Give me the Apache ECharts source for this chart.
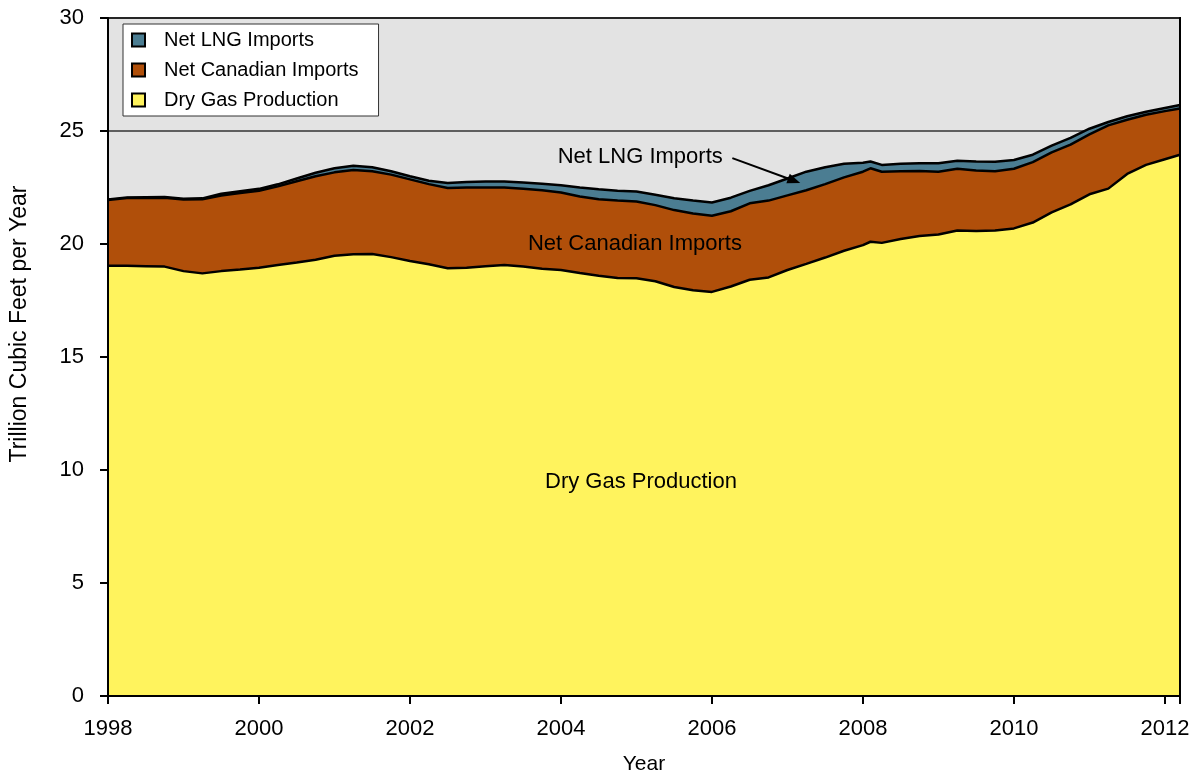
<!DOCTYPE html>
<html>
<head>
<meta charset="utf-8">
<script src="https://cdn.jsdelivr.net/npm/echarts@6/dist/echarts.min.js"></script>
<style>
  html, body { margin: 0; padding: 0; background: #ffffff; }
  #chart { width: 1193px; height: 777px; }
</style>
</head>
<body>
<div id="chart"></div>
<script>
// ---- data (Trillion cubic feet per year, 12-month totals) ----
var years = [1998.00,1998.25,1998.50,1998.75,1999.00,1999.25,1999.50,1999.75,
  2000.00,2000.25,2000.50,2000.75,2001.00,2001.25,2001.50,2001.75,
  2002.00,2002.25,2002.50,2002.75,2003.00,2003.25,2003.50,2003.75,
  2004.00,2004.25,2004.50,2004.75,2005.00,2005.25,2005.50,2005.75,
  2006.00,2006.25,2006.50,2006.75,2007.00,2007.25,2007.50,2007.75,
  2008.00,2008.10,2008.25,2008.50,2008.75,2009.00,2009.25,2009.50,2009.75,
  2010.00,2010.25,2010.50,2010.75,2011.00,2011.25,2011.50,2011.75,
  2012.00,2012.20];
var dryGasProduction = [19.04,19.04,19.02,19.00,18.80,18.70,18.80,18.87,
  18.95,19.07,19.18,19.30,19.48,19.55,19.56,19.42,
  19.25,19.10,18.93,18.95,19.02,19.07,19.00,18.90,
  18.85,18.72,18.60,18.50,18.48,18.35,18.10,17.95,
  17.88,18.12,18.42,18.52,18.85,19.12,19.40,19.70,
  19.95,20.10,20.05,20.22,20.35,20.42,20.60,20.58,20.60,
  20.69,20.95,21.40,21.75,22.20,22.45,23.10,23.50,
  23.75,23.95];
var netCanadianImports = [2.91,2.99,3.02,3.05,3.17,3.28,3.35,3.39,
  3.41,3.48,3.60,3.70,3.69,3.72,3.66,3.65,
  3.61,3.55,3.55,3.55,3.48,3.43,3.45,3.48,
  3.43,3.38,3.38,3.42,3.40,3.37,3.40,3.40,
  3.37,3.33,3.38,3.40,3.30,3.26,3.25,3.25,
  3.25,3.25,3.15,3.00,2.88,2.78,2.73,2.67,2.62,
  2.64,2.67,2.65,2.65,2.65,2.80,2.40,2.22,
  2.13,2.05];
var netLngImports = [0.02,0.03,0.03,0.03,0.03,0.04,0.07,0.07,
  0.08,0.09,0.12,0.15,0.18,0.19,0.18,0.15,
  0.14,0.15,0.22,0.24,0.27,0.27,0.27,0.29,
  0.32,0.40,0.44,0.44,0.44,0.46,0.52,0.57,
  0.59,0.60,0.55,0.68,0.75,0.82,0.75,0.60,
  0.40,0.30,0.30,0.33,0.34,0.37,0.35,0.40,0.42,
  0.39,0.33,0.30,0.30,0.25,0.15,0.15,0.13,
  0.14,0.15];
var xTicks = [1998, 2000, 2002, 2004, 2006, 2008, 2010, 2012];
var yTicks = [0, 5, 10, 15, 20, 25, 30];
var seriesNames = ['Dry Gas Production', 'Net Canadian Imports', 'Net LNG Imports'];

// ---- build: cumulative layers (stack tops) ----
var layerProd = years.map(function (y, i) { return [y, dryGasProduction[i]]; });
var layerCan = years.map(function (y, i) { return [y, dryGasProduction[i] + netCanadianImports[i]]; });
var layerLng = years.map(function (y, i) { return [y, dryGasProduction[i] + netCanadianImports[i] + netLngImports[i]]; });

var FONT = 'Liberation Sans';
var colors = { prod: '#FFF35D', can: '#B04F0A', lng: '#4B7D92' };

var chart = echarts.init(document.getElementById('chart'), null, { renderer: 'canvas' });

function areaSeries(name, data, color, z) {
  return {
    name: name, type: 'line', data: data, xAxisIndex: 0, yAxisIndex: 0,
    showSymbol: false, symbol: 'rect', smooth: false, z: z,
    lineStyle: { color: '#000', width: 2.5 },
    itemStyle: { color: color, borderColor: '#000', borderWidth: 2 },
    areaStyle: { color: color, opacity: 1, origin: 'start' },
    emphasis: { disabled: true }
  };
}

var yRange = { min: yTicks[0], max: yTicks[yTicks.length - 1], interval: 5 };
var blackLine = { show: true, lineStyle: { color: '#000', width: 2 } };

var option = {
  backgroundColor: '#ffffff',
  animation: false,
  textStyle: { fontFamily: FONT },
  grid: {
    left: 108, top: 18, right: 13, bottom: 81,
    outerBoundsMode: 'none', containLabel: false,
    show: true, backgroundColor: '#E3E3E3', borderColor: '#000', borderWidth: 2
  },
  legend: {
    orient: 'vertical', left: 123, top: 24,
    data: [seriesNames[2], seriesNames[1], seriesNames[0]],
    backgroundColor: '#ffffff', borderColor: '#333', borderWidth: 1,
    padding: [6, 20, 6, 8], itemGap: 10, itemWidth: 13, itemHeight: 13,
    icon: 'rect', selectedMode: false,
    textStyle: { fontFamily: FONT, fontSize: 20, color: '#000', padding: [0, 0, 0, 14] }
  },
  xAxis: [{
    type: 'value', min: xTicks[0], max: 2012.2, interval: 2, z: 10,
    name: 'Year', nameLocation: 'middle', nameGap: 58,
    nameTextStyle: { fontFamily: FONT, fontSize: 21, color: '#000' },
    axisLine: blackLine,
    axisTick: { show: true, inside: false, length: 8, lineStyle: { color: '#000', width: 2 } },
    axisLabel: {
      fontFamily: FONT, fontSize: 22, color: '#000', margin: 22,
      formatter: function (v) { return xTicks.indexOf(v) >= 0 ? String(v) : ''; }
    },
    splitLine: { show: false }
  }],
  yAxis: [{
    type: 'value', min: yRange.min, max: yRange.max, interval: yRange.interval, z: 10,
    position: 'left',
    axisLine: blackLine,
    axisTick: { show: true, inside: false, length: 8, lineStyle: { color: '#000', width: 2 } },
    axisLabel: { fontFamily: FONT, fontSize: 22, color: '#000', margin: 24 },
    splitLine: { show: false }
  }, {
    // gridlines, kept beneath the areas
    type: 'value', min: yRange.min, max: yRange.max, interval: yRange.interval, z: 0,
    position: 'right',
    axisLine: { show: false }, axisTick: { show: false }, axisLabel: { show: false },
    splitLine: { show: true, lineStyle: { color: '#333', width: 1.5 } }
  }, {
    // right frame edge drawn above the areas
    type: 'value', min: yRange.min, max: yRange.max, interval: yRange.interval, z: 10,
    position: 'right', offset: 0,
    axisLine: blackLine, axisTick: { show: false }, axisLabel: { show: false },
    splitLine: { show: false }
  }],
  series: [
    areaSeries(seriesNames[2], layerLng, colors.lng, 2),
    areaSeries(seriesNames[1], layerCan, colors.can, 3),
    areaSeries(seriesNames[0], layerProd, colors.prod, 4)
  ]
};
chart.setOption(option);

// ---- annotations placed through the chart's own scales ----
function px(x, y) { return chart.convertToPixel({ xAxisIndex: 0, yAxisIndex: 0 }, [x, y]); }
var lngLabel = px(2005.05, 23.85);
var canLabel = px(2004.98, 20.0);
var prodLabel = px(2005.06, 9.47);
var arrowFrom = px(2006.27, 23.8);
var arrowTo = px(2007.17, 22.7);
var dx = arrowTo[0] - arrowFrom[0], dy = arrowTo[1] - arrowFrom[1];
var len = Math.sqrt(dx * dx + dy * dy), ux = dx / len, uy = dy / len;
var headL = 13, headW = 5;
var base = [arrowTo[0] - ux * headL, arrowTo[1] - uy * headL];
var yNamePos = [20, 324];

chart.setOption({
  graphic: [
    { type: 'text', x: lngLabel[0], y: lngLabel[1], z: 100,
      style: { text: 'Net LNG Imports', fontFamily: FONT, fontSize: 22, fill: '#000', align: 'center', verticalAlign: 'middle' } },
    { type: 'text', x: canLabel[0], y: canLabel[1], z: 100,
      style: { text: 'Net Canadian Imports', fontFamily: FONT, fontSize: 22, fill: '#000', align: 'center', verticalAlign: 'middle' } },
    { type: 'text', x: prodLabel[0], y: prodLabel[1], z: 100,
      style: { text: 'Dry Gas Production', fontFamily: FONT, fontSize: 22, fill: '#000', align: 'center', verticalAlign: 'middle' } },
    { type: 'line', z: 100,
      shape: { x1: arrowFrom[0], y1: arrowFrom[1], x2: base[0], y2: base[1] },
      style: { stroke: '#000', lineWidth: 2 } },
    { type: 'polygon', z: 100,
      shape: { points: [arrowTo,
        [base[0] - uy * headW, base[1] + ux * headW],
        [base[0] + uy * headW, base[1] - ux * headW]] },
      style: { fill: '#000' } },
    { type: 'text', x: yNamePos[0], y: yNamePos[1], rotation: Math.PI / 2, z: 100,
      style: { text: 'Trillion Cubic Feet per Year', fontFamily: FONT, fontSize: 23, fill: '#000', align: 'center', verticalAlign: 'middle' } }
  ]
});
</script>
</body>
</html>
